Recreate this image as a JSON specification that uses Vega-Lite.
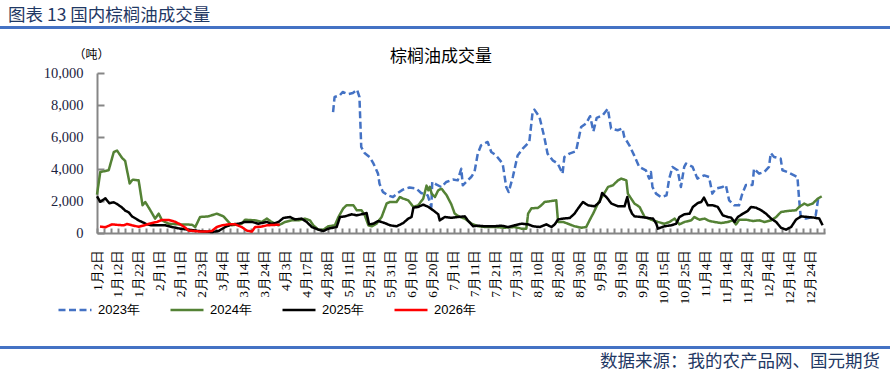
{
"$schema": "https://vega.github.io/schema/vega-lite/v6.json",
"padding": {"left": 0, "top": 6, "right": 0, "bottom": 0},
"background": "white",
"spacing": 19,
"config": {"view": {"stroke": null}},
"resolve": {"scale": {"color": "independent", "strokeDash": "independent", "strokeWidth": "independent"}, "legend": {"color": "independent", "strokeDash": "independent", "strokeWidth": "independent"}},
"vconcat": [
{
"title": {"text": "图表 13 国内棕榈油成交量", "anchor": "start", "fontSize": 17.5, "font": "Noto Sans CJK SC", "fontWeight": "normal", "color": "#1F3864", "dx": 8, "offset": 2},
"width": 890, "height": 3,
"view": {"fill": "#4472C4", "stroke": null},
"data": {"values": []},
"mark": "rule",
"encoding": {}
},
{
"spacing": 0,
"resolve": {"scale": {"color": "independent", "strokeDash": "independent", "strokeWidth": "independent"}, "legend": {"color": "independent", "strokeDash": "independent", "strokeWidth": "independent"}},
"hconcat": [
{"width": 43, "height": 1, "data": {"values": []}, "mark": "rule", "encoding": {}},
{
"title": {"text": "棕榈油成交量", "fontSize": 17, "font": "Noto Sans CJK SC", "fontWeight": "normal", "color": "#000000", "anchor": "middle", "dx": -20, "offset": -18},
"width": 728, "height": 160,
"data": {"values": [
{"s":"2023年","d":78.8,"v":7560},{"s":"2023年","d":79.3,"v":8500},{"s":"2023年","d":81,"v":8600},{"s":"2023年","d":82,"v":8810},{"s":"2023年","d":83.8,"v":8680},{"s":"2023年","d":85.4,"v":8750},{"s":"2023年","d":86.8,"v":8960},{"s":"2023年","d":87.6,"v":8500},{"s":"2023年","d":88.2,"v":5375},{"s":"2023年","d":89.3,"v":5000},{"s":"2023年","d":91,"v":4750},{"s":"2023年","d":92.3,"v":4330},{"s":"2023年","d":93.8,"v":3710},{"s":"2023年","d":94.3,"v":3080},{"s":"2023年","d":95.4,"v":2570},{"s":"2023年","d":97.1,"v":2350},{"s":"2023年","d":98.8,"v":2250},{"s":"2023年","d":100.4,"v":2500},{"s":"2023年","d":102.1,"v":2710},{"s":"2023年","d":104.3,"v":2840},{"s":"2023年","d":106.6,"v":2770},{"s":"2023年","d":108.2,"v":2500},{"s":"2023年","d":110.4,"v":2350},{"s":"2023年","d":111.6,"v":1625},{"s":"2023年","d":111.9,"v":3190},{"s":"2023年","d":113.2,"v":3040},{"s":"2023年","d":114.9,"v":2875},{"s":"2023年","d":116.6,"v":3190},{"s":"2023年","d":118.8,"v":3340},{"s":"2023年","d":120.4,"v":3290},{"s":"2023年","d":121.6,"v":4020},{"s":"2023年","d":122.1,"v":2980},{"s":"2023年","d":123.2,"v":3190},{"s":"2023年","d":124.9,"v":3500},{"s":"2023年","d":126,"v":3810},{"s":"2023年","d":127.1,"v":4960},{"s":"2023年","d":128.2,"v":5480},{"s":"2023年","d":130.4,"v":5690},{"s":"2023年","d":131.6,"v":5060},{"s":"2023年","d":133.2,"v":4850},{"s":"2023年","d":135.4,"v":4340},{"s":"2023年","d":136.6,"v":2875},{"s":"2023年","d":137.4,"v":2560},{"s":"2023年","d":138.8,"v":3500},{"s":"2023年","d":140.4,"v":4850},{"s":"2023年","d":142.1,"v":5270},{"s":"2023年","d":144.3,"v":5690},{"s":"2023年","d":145.4,"v":7560},{"s":"2023年","d":146,"v":7710},{"s":"2023年","d":147.7,"v":7250},{"s":"2023年","d":149.3,"v":6000},{"s":"2023年","d":150.4,"v":4960},{"s":"2023年","d":152.1,"v":4540},{"s":"2023年","d":153.8,"v":4340},{"s":"2023年","d":155.4,"v":3710},{"s":"2023年","d":156,"v":4750},{"s":"2023年","d":157.7,"v":4960},{"s":"2023年","d":159.9,"v":5120},{"s":"2023年","d":161.6,"v":6625},{"s":"2023年","d":163.2,"v":6840},{"s":"2023年","d":164.6,"v":7300},{"s":"2023年","d":165.7,"v":6350},{"s":"2023年","d":166.8,"v":7200},{"s":"2023年","d":168.8,"v":7360},{"s":"2023年","d":170.5,"v":7770},{"s":"2023年","d":171.6,"v":6530},{"s":"2023年","d":173.8,"v":6420},{"s":"2023年","d":175.4,"v":6530},{"s":"2023年","d":176,"v":6000},{"s":"2023年","d":177.7,"v":5480},{"s":"2023年","d":179.3,"v":4850},{"s":"2023年","d":181,"v":4130},{"s":"2023年","d":183.2,"v":3920},{"s":"2023年","d":184.3,"v":3400},{"s":"2023年","d":184.9,"v":3810},{"s":"2023年","d":185.4,"v":2875},{"s":"2023年","d":186.6,"v":2460},{"s":"2023年","d":188.2,"v":2250},{"s":"2023年","d":190.1,"v":2350},{"s":"2023年","d":191,"v":3400},{"s":"2023年","d":192.1,"v":4130},{"s":"2023年","d":193.8,"v":3920},{"s":"2023年","d":194.9,"v":2875},{"s":"2023年","d":196,"v":4130},{"s":"2023年","d":196.6,"v":4340},{"s":"2023年","d":198.8,"v":4130},{"s":"2023年","d":200.4,"v":3400},{"s":"2023年","d":202.7,"v":3600},{"s":"2023年","d":204.3,"v":3500},{"s":"2023年","d":205.4,"v":2460},{"s":"2023年","d":206.6,"v":2775},{"s":"2023年","d":208.8,"v":2875},{"s":"2023年","d":209.9,"v":3000},{"s":"2023年","d":211,"v":2040},{"s":"2023年","d":212.7,"v":1730},{"s":"2023年","d":214.3,"v":1730},{"s":"2023年","d":215.4,"v":2460},{"s":"2023年","d":216.6,"v":3000},{"s":"2023年","d":218.8,"v":3000},{"s":"2023年","d":219.3,"v":4020},{"s":"2023年","d":221,"v":3710},{"s":"2023年","d":222.7,"v":3810},{"s":"2023年","d":224.3,"v":4130},{"s":"2023年","d":224.9,"v":5000},{"s":"2023年","d":226,"v":4750},{"s":"2023年","d":228.2,"v":4650},{"s":"2023年","d":228.8,"v":3920},{"s":"2023年","d":230.4,"v":3810},{"s":"2023年","d":232.7,"v":3600},{"s":"2023年","d":233.8,"v":3500},{"s":"2023年","d":234.3,"v":2250},{"s":"2023年","d":234.9,"v":1000},{"s":"2023年","d":236.6,"v":900},{"s":"2023年","d":238.8,"v":1000},{"s":"2023年","d":239.9,"v":1100},{"s":"2023年","d":240.8,"v":2250},
{"s":"2024年","d":0,"v":2400},{"s":"2024年","d":1.1,"v":3810},{"s":"2024年","d":3.9,"v":3920},{"s":"2024年","d":5.6,"v":5060},{"s":"2024年","d":6.7,"v":5150},{"s":"2024年","d":8.3,"v":4710},{"s":"2024年","d":9.4,"v":4500},{"s":"2024年","d":10.9,"v":3100},{"s":"2024年","d":11.9,"v":3330},{"s":"2024年","d":13.9,"v":3290},{"s":"2024年","d":15.2,"v":1730},{"s":"2024年","d":16.1,"v":1940},{"s":"2024年","d":17.8,"v":1420},{"s":"2024年","d":19.4,"v":900},{"s":"2024年","d":20.6,"v":1210},{"s":"2024年","d":21.7,"v":790},{"s":"2024年","d":23.9,"v":580},{"s":"2024年","d":27,"v":540},{"s":"2024年","d":31.7,"v":520},{"s":"2024年","d":32.8,"v":375},{"s":"2024年","d":34.4,"v":1000},{"s":"2024年","d":37.2,"v":1040},{"s":"2024年","d":40,"v":1210},{"s":"2024年","d":42.2,"v":1040},{"s":"2024年","d":43.9,"v":690},{"s":"2024年","d":45,"v":480},{"s":"2024年","d":48.3,"v":580},{"s":"2024年","d":49.4,"v":830},{"s":"2024年","d":52.8,"v":790},{"s":"2024年","d":55,"v":690},{"s":"2024年","d":56.7,"v":900},{"s":"2024年","d":58.3,"v":690},{"s":"2024年","d":60.6,"v":480},{"s":"2024年","d":62.8,"v":690},{"s":"2024年","d":65,"v":790},{"s":"2024年","d":67.2,"v":790},{"s":"2024年","d":69.4,"v":900},{"s":"2024年","d":71.1,"v":790},{"s":"2024年","d":72.2,"v":480},{"s":"2024年","d":73.9,"v":210},{"s":"2024年","d":75.6,"v":210},{"s":"2024年","d":77.2,"v":420},{"s":"2024年","d":79.4,"v":480},{"s":"2024年","d":80.6,"v":1000},{"s":"2024年","d":82.2,"v":1540},{"s":"2024年","d":83.3,"v":1730},{"s":"2024年","d":85.6,"v":1730},{"s":"2024年","d":86.7,"v":1420},{"s":"2024年","d":88.3,"v":1420},{"s":"2024年","d":89.4,"v":1100},{"s":"2024年","d":90.6,"v":480},{"s":"2024年","d":91.7,"v":420},{"s":"2024年","d":93.3,"v":580},{"s":"2024年","d":95,"v":1000},{"s":"2024年","d":96.7,"v":1850},{"s":"2024年","d":97.8,"v":1940},{"s":"2024年","d":100,"v":1940},{"s":"2024年","d":101.1,"v":2250},{"s":"2024年","d":102.2,"v":2150},{"s":"2024年","d":103.9,"v":2040},{"s":"2024年","d":105.6,"v":1630},{"s":"2024年","d":107.2,"v":1730},{"s":"2024年","d":108.9,"v":2150},{"s":"2024年","d":110,"v":2960},{"s":"2024年","d":110.6,"v":2670},{"s":"2024年","d":111.1,"v":2880},{"s":"2024年","d":111.7,"v":2460},{"s":"2024年","d":112.8,"v":2250},{"s":"2024年","d":113.9,"v":2670},{"s":"2024年","d":115,"v":2770},{"s":"2024年","d":116.7,"v":2360},{"s":"2024年","d":118.3,"v":1780},{"s":"2024年","d":119.4,"v":1210},{"s":"2024年","d":121.1,"v":1000},{"s":"2024年","d":122.8,"v":900},{"s":"2024年","d":125,"v":580},{"s":"2024年","d":127.2,"v":420},{"s":"2024年","d":129.4,"v":375},{"s":"2024年","d":132.8,"v":375},{"s":"2024年","d":136.1,"v":330},{"s":"2024年","d":139.4,"v":375},{"s":"2024年","d":141.7,"v":270},{"s":"2024年","d":143.3,"v":270},{"s":"2024年","d":143.9,"v":1210},{"s":"2024年","d":145,"v":1540},{"s":"2024年","d":147.2,"v":1570},{"s":"2024年","d":148.3,"v":1730},{"s":"2024年","d":149.4,"v":1940},{"s":"2024年","d":151.7,"v":2000},{"s":"2024年","d":153.3,"v":2040},{"s":"2024年","d":153.9,"v":690},{"s":"2024年","d":155.6,"v":690},{"s":"2024年","d":157.2,"v":580},{"s":"2024年","d":159.4,"v":420},{"s":"2024年","d":161.7,"v":330},{"s":"2024年","d":163.3,"v":375},{"s":"2024年","d":164.4,"v":790},{"s":"2024年","d":165.6,"v":1210},{"s":"2024年","d":167.2,"v":1840},{"s":"2024年","d":168.9,"v":2360},{"s":"2024年","d":170.6,"v":2880},{"s":"2024年","d":172.2,"v":2980},{"s":"2024年","d":173.9,"v":3290},{"s":"2024年","d":175,"v":3400},{"s":"2024年","d":176.7,"v":3290},{"s":"2024年","d":177.2,"v":2460},{"s":"2024年","d":178.3,"v":2150},{"s":"2024年","d":179.4,"v":1840},{"s":"2024年","d":181.1,"v":1630},{"s":"2024年","d":182.8,"v":1000},{"s":"2024年","d":185,"v":830},{"s":"2024年","d":187.2,"v":690},{"s":"2024年","d":189.4,"v":580},{"s":"2024年","d":191.1,"v":690},{"s":"2024年","d":192.8,"v":900},{"s":"2024年","d":194.4,"v":540},{"s":"2024年","d":196.1,"v":690},{"s":"2024年","d":198.3,"v":790},{"s":"2024年","d":199.4,"v":1000},{"s":"2024年","d":201.1,"v":830},{"s":"2024年","d":202.8,"v":900},{"s":"2024年","d":204.4,"v":750},{"s":"2024年","d":206.1,"v":690},{"s":"2024年","d":208.3,"v":620},{"s":"2024年","d":210.6,"v":690},{"s":"2024年","d":212.2,"v":790},{"s":"2024年","d":213.3,"v":540},{"s":"2024年","d":214.4,"v":830},{"s":"2024年","d":216.7,"v":830},{"s":"2024年","d":218.9,"v":750},{"s":"2024年","d":221.1,"v":790},{"s":"2024年","d":222.8,"v":690},{"s":"2024年","d":225,"v":790},{"s":"2024年","d":226.7,"v":1000},{"s":"2024年","d":228.3,"v":1310},{"s":"2024年","d":230.6,"v":1380},{"s":"2024年","d":233.3,"v":1420},{"s":"2024年","d":234.4,"v":1630},{"s":"2024年","d":236.1,"v":1840},{"s":"2024年","d":237.2,"v":1730},{"s":"2024年","d":238.9,"v":1840},{"s":"2024年","d":240.6,"v":2150},{"s":"2024年","d":241.9,"v":2290},
{"s":"2025年","d":0,"v":2290},{"s":"2025年","d":1.1,"v":1950},{"s":"2025年","d":2.8,"v":2170},{"s":"2025年","d":4.1,"v":1860},{"s":"2025年","d":5.6,"v":1920},{"s":"2025年","d":6.7,"v":1810},{"s":"2025年","d":8.3,"v":1600},{"s":"2025年","d":9.4,"v":1400},{"s":"2025年","d":10.6,"v":1290},{"s":"2025年","d":11.7,"v":1040},{"s":"2025年","d":13.9,"v":790},{"s":"2025年","d":15,"v":690},{"s":"2025年","d":16.7,"v":540},{"s":"2025年","d":18.3,"v":480},{"s":"2025年","d":22.8,"v":480},{"s":"2025年","d":25,"v":375},{"s":"2025年","d":27.8,"v":270},{"s":"2025年","d":30.6,"v":210},{"s":"2025年","d":33.9,"v":125},{"s":"2025年","d":38.3,"v":60},{"s":"2025年","d":40.6,"v":125},{"s":"2025年","d":42.8,"v":375},{"s":"2025年","d":45,"v":540},{"s":"2025年","d":47.2,"v":580},{"s":"2025年","d":49.4,"v":690},{"s":"2025年","d":51.7,"v":690},{"s":"2025年","d":53.9,"v":580},{"s":"2025年","d":56.7,"v":690},{"s":"2025年","d":58.3,"v":560},{"s":"2025年","d":60.6,"v":690},{"s":"2025年","d":62.2,"v":940},{"s":"2025年","d":64.4,"v":1000},{"s":"2025年","d":66.1,"v":850},{"s":"2025年","d":68.3,"v":900},{"s":"2025年","d":70,"v":690},{"s":"2025年","d":71.7,"v":375},{"s":"2025年","d":73.9,"v":210},{"s":"2025年","d":75.6,"v":125},{"s":"2025年","d":77.2,"v":270},{"s":"2025年","d":80,"v":375},{"s":"2025年","d":81.1,"v":1000},{"s":"2025年","d":82.8,"v":1040},{"s":"2025年","d":85,"v":1170},{"s":"2025年","d":86.7,"v":1100},{"s":"2025年","d":88.3,"v":1170},{"s":"2025年","d":90,"v":1250},{"s":"2025年","d":90.8,"v":540},{"s":"2025年","d":92.2,"v":580},{"s":"2025年","d":93.9,"v":750},{"s":"2025年","d":96.1,"v":620},{"s":"2025年","d":97.8,"v":480},{"s":"2025年","d":100,"v":420},{"s":"2025年","d":102.2,"v":620},{"s":"2025年","d":103.9,"v":900},{"s":"2025年","d":105,"v":1000},{"s":"2025年","d":105.6,"v":1580},{"s":"2025年","d":107.2,"v":1630},{"s":"2025年","d":108.9,"v":1770},{"s":"2025年","d":110.6,"v":1630},{"s":"2025年","d":112.2,"v":1420},{"s":"2025年","d":113.9,"v":1170},{"s":"2025年","d":114.4,"v":790},{"s":"2025年","d":116.1,"v":1000},{"s":"2025年","d":118.3,"v":950},{"s":"2025年","d":120.3,"v":1000},{"s":"2025年","d":122.8,"v":1040},{"s":"2025年","d":123.9,"v":750},{"s":"2025年","d":125.6,"v":420},{"s":"2025年","d":127.2,"v":460},{"s":"2025年","d":129.4,"v":420},{"s":"2025年","d":132.8,"v":420},{"s":"2025年","d":135,"v":460},{"s":"2025年","d":137.2,"v":375},{"s":"2025年","d":139.4,"v":480},{"s":"2025年","d":141.7,"v":580},{"s":"2025年","d":143.9,"v":540},{"s":"2025年","d":145.6,"v":420},{"s":"2025年","d":147.8,"v":375},{"s":"2025年","d":150,"v":540},{"s":"2025年","d":151.7,"v":375},{"s":"2025年","d":152.8,"v":540},{"s":"2025年","d":153.9,"v":850},{"s":"2025年","d":155.6,"v":900},{"s":"2025年","d":157.8,"v":940},{"s":"2025年","d":159.4,"v":1210},{"s":"2025年","d":160.6,"v":1540},{"s":"2025年","d":162.2,"v":1940},{"s":"2025年","d":163.9,"v":1730},{"s":"2025年","d":166.1,"v":1670},{"s":"2025年","d":167.8,"v":1940},{"s":"2025年","d":168.6,"v":2500},{"s":"2025年","d":170,"v":2250},{"s":"2025年","d":171.7,"v":1840},{"s":"2025年","d":173.9,"v":1670},{"s":"2025年","d":176.1,"v":1670},{"s":"2025年","d":177,"v":2250},{"s":"2025年","d":177.8,"v":1540},{"s":"2025年","d":178.6,"v":1210},{"s":"2025年","d":179.4,"v":1040},{"s":"2025年","d":181.7,"v":1000},{"s":"2025年","d":183.9,"v":940},{"s":"2025年","d":185.6,"v":900},{"s":"2025年","d":186.7,"v":580},{"s":"2025年","d":187.2,"v":270},{"s":"2025年","d":189.4,"v":420},{"s":"2025年","d":191.7,"v":480},{"s":"2025年","d":193.3,"v":580},{"s":"2025年","d":194.4,"v":1000},{"s":"2025年","d":196.1,"v":1170},{"s":"2025年","d":197.8,"v":1210},{"s":"2025年","d":198.9,"v":1630},{"s":"2025年","d":200.6,"v":1880},{"s":"2025年","d":201.7,"v":1940},{"s":"2025年","d":202.6,"v":2210},{"s":"2025年","d":203.9,"v":1730},{"s":"2025年","d":205.6,"v":1730},{"s":"2025年","d":207.2,"v":1630},{"s":"2025年","d":208.9,"v":1100},{"s":"2025年","d":210.6,"v":1000},{"s":"2025年","d":211.7,"v":960},{"s":"2025年","d":212.8,"v":690},{"s":"2025年","d":213.9,"v":1000},{"s":"2025年","d":215.6,"v":1210},{"s":"2025年","d":217.2,"v":1380},{"s":"2025年","d":218.3,"v":1630},{"s":"2025年","d":220,"v":1580},{"s":"2025年","d":221.7,"v":1420},{"s":"2025年","d":223.3,"v":1210},{"s":"2025年","d":225,"v":900},{"s":"2025年","d":226.7,"v":690},{"s":"2025年","d":228.3,"v":330},{"s":"2025年","d":230,"v":210},{"s":"2025年","d":231.7,"v":375},{"s":"2025年","d":233.3,"v":830},{"s":"2025年","d":235,"v":1040},{"s":"2025年","d":237.2,"v":1000},{"s":"2025年","d":239.4,"v":960},{"s":"2025年","d":241.1,"v":900},{"s":"2025年","d":242.2,"v":480},
{"s":"2026年","d":1,"v":400},{"s":"2026年","d":2.8,"v":360},{"s":"2026年","d":5,"v":540},{"s":"2026年","d":7.2,"v":500},{"s":"2026年","d":8.9,"v":480},{"s":"2026年","d":10,"v":560},{"s":"2026年","d":11.7,"v":480},{"s":"2026年","d":13.9,"v":390},{"s":"2026年","d":16.1,"v":500},{"s":"2026年","d":17.8,"v":600},{"s":"2026年","d":20,"v":690},{"s":"2026年","d":21.7,"v":820},{"s":"2026年","d":23.9,"v":820},{"s":"2026年","d":26.1,"v":700},{"s":"2026年","d":27.8,"v":540},{"s":"2026年","d":29.4,"v":340},{"s":"2026年","d":30.6,"v":150},{"s":"2026年","d":33.9,"v":100},{"s":"2026年","d":36.7,"v":90},{"s":"2026年","d":38.3,"v":125},{"s":"2026年","d":40,"v":375},{"s":"2026年","d":41.7,"v":480},{"s":"2026年","d":43.9,"v":540},{"s":"2026年","d":46.1,"v":540},{"s":"2026年","d":48.3,"v":375},{"s":"2026年","d":50,"v":150},{"s":"2026年","d":51.7,"v":90},{"s":"2026年","d":52.8,"v":375},{"s":"2026年","d":55,"v":400},{"s":"2026年","d":56.7,"v":480},{"s":"2026年","d":58.5,"v":500},{"s":"2026年","d":61,"v":520}
]},
"mark": {"type": "line", "strokeJoin": "round", "strokeCap": "butt"},
"encoding": {
"x": {"field": "d", "type": "quantitative", "scale": {"domain": [0, 243], "nice": false, "zero": false},
 "axis": {"values": [0,2.33,4.67,7,9.33,11.67,14,16.33,18.67,21,23.33,25.67,28,30.33,32.67,35,37.33,39.67,42,44.33,46.67,49,51.33,53.67,56,58.33,60.67,63,65.33,67.67,70,72.33,74.67,77,79.33,81.67,84,86.33,88.67,91,93.33,95.67,98,100.33,102.67,105,107.33,109.67,112,114.33,116.67,119,121.33,123.67,126,128.33,130.67,133,135.33,137.67,140,142.33,144.67,147,149.33,151.67,154,156.33,158.67,161,163.33,165.67,168,170.33,172.67,175,177.33,179.67,182,184.33,186.67,189,191.33,193.67,196,198.33,200.67,203,205.33,207.67,210,212.33,214.67,217,219.33,221.67,224,226.33,228.67,231,233.33,235.67,238,240.33,242.67],
  "labelExpr": "round(datum.value*3/7) % 3 == 0 ? ['1月2日','1月12日','1月22日','2月1日','2月11日','2月23日','3月4日','3月14日','3月24日','4月3日','4月17日','4月28日','5月11日','5月21日','5月31日','6月10日','6月20日','7月1日','7月11日','7月21日','7月31日','8月10日','8月20日','8月30日','9月9日','9月19日','9月29日','10月15日','10月25日','11月4日','11月14日','11月24日','12月4日','12月14日','12月24日'][round(datum.value*3/7)/3] : ''",
  "labelAngle": 270, "labelOverlap": false, "labelBound": false, "labelFlush": false,
  "labelFont": "Liberation Serif", "labelFontSize": 13.5, "labelColor": "#000000", "labelPadding": 21,
  "tickSize": -5, "tickColor": "#868686", "tickWidth": 2,
  "domainColor": "#868686", "domainWidth": 2, "grid": false, "title": null}},
"y": {"field": "v", "type": "quantitative", "scale": {"domain": [0, 10000], "nice": false},
 "axis": {"values": [0,2000,4000,6000,8000,10000], "format": ",.0f", "labelFont": "Liberation Serif", "labelFontSize": 14.5, "labelColor": "#1c2340", "labelPadding": 21,
  "tickSize": -7, "tickColor": "#868686", "tickWidth": 2, "domainColor": "#868686", "domainWidth": 2, "grid": false,
  "title": "（吨）", "titleAngle": 0, "titleX": -6, "titleY": -19, "titleAlign": "center", "titleBaseline": "middle",
  "titleFont": "Noto Sans CJK SC", "titleFontSize": 12, "titleFontWeight": "normal", "titleColor": "#000000"}},
"color": {"field": "s", "type": "nominal", "scale": {"domain": ["2023年","2024年","2025年","2026年"], "range": ["#4472C4","#548235","#000000","#FF0000"]},
 "legend": {"title": null, "orient": "none", "legendX": -50, "legendY": 209, "padding": 10, "direction": "horizontal", "columns": 4,
  "symbolType": "stroke", "symbolSize": 1089, "labelFont": "Liberation Sans", "labelFontSize": 13, "labelColor": "#000000", "labelOffset": 5, "columnPadding": 25}},
"strokeDash": {"field": "s", "type": "nominal", "scale": {"domain": ["2023年","2024年","2025年","2026年"], "range": [[7,3.5],[1,0],[1,0],[1,0]]}},
"strokeWidth": {"field": "s", "type": "nominal", "scale": {"domain": ["2023年","2024年","2025年","2026年"], "range": [2.5,2.5,2.5,3.5]}}
}
}
]
},
{
"title": {"text": "数据来源：我的农产品网、国元期货", "orient": "bottom", "anchor": "end", "fontSize": 17.5, "font": "Noto Sans CJK SC", "fontWeight": "normal", "color": "#1F3864", "dx": -10, "offset": 4},
"width": 890, "height": 3,
"view": {"fill": "#4472C4", "stroke": null},
"data": {"values": []},
"mark": "rule",
"encoding": {}
}
]
}
